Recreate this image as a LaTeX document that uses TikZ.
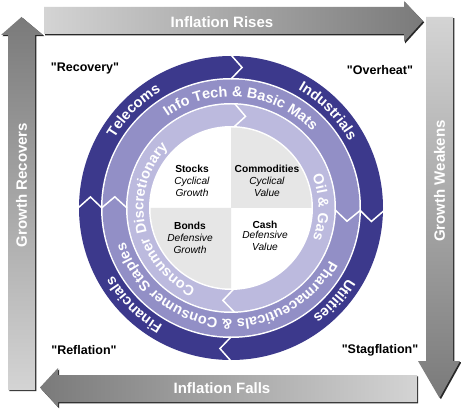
\documentclass[tikz,border=0pt]{standalone}
\usepackage{fontspec}
\defaultfontfeatures[\rmfamily]{}
\setmainfont{Liberation Sans}
\usetikzlibrary{decorations.text}
\definecolor{ringdark}{RGB}{60,57,140}
\definecolor{ringmid}{RGB}{146,143,198}
\definecolor{ringlight}{RGB}{188,186,222}
\definecolor{quadgray}{RGB}{230,230,230}
\definecolor{arrlight}{RGB}{212,212,212}
\definecolor{arrdark}{RGB}{122,122,122}
\definecolor{arrshadow}{RGB}{40,40,40}
\newcommand\ringfont{\bfseries\fontsize{14.5}{14.5}\selectfont}
% #1 radius, #2 start angle, #3 end angle, #4 text
\newcommand\ringlabel[4]{%
  \path[decorate,decoration={text along path,text align=center,
    text={|\ringfont\color{white}|#4}}] (#2:#1pt) arc[start angle=#2,end angle=#3,radius=#1pt];}
% #1 inner r, #2 outer r, #3 angle, #4 delta
\newcommand\chev[4]{%
  \draw[chevline] (#3:#1pt) -- (#3-#4:{(#1+#2)/2*1pt}) -- (#3:#2pt);}
\tikzset{
  chevline/.style={white,line width=1.5pt,line join=miter},
  arrtext/.style={text=white,font=\bfseries\fontsize{15}{15}\selectfont,inner sep=0pt},
  scen/.style={text=black,font=\bfseries\fontsize{12.5}{13}\selectfont,inner sep=0pt},
  quadtext/.style={align=center,font=\fontsize{10.2}{12}\selectfont,inner sep=0pt,text=black}
}
\begin{document}
\begin{tikzpicture}[x=1pt,y=1pt]
\useasboundingbox (0,0) rectangle (461,413);
\fill[white] (0,0) rectangle (461,413);

% ---- top arrow (Inflation Rises)
\fill[arrshadow,shift={(1.2,-1.4)}] (44,379) -- (404,379) -- (404,371) -- (423,392) -- (404,412) -- (404,406) -- (44,406) -- cycle;
\shade[left color=arrlight,right color=arrdark] (44,379) -- (404,379) -- (404,371) -- (423,392) -- (404,412) -- (404,406) -- (44,406) -- cycle;
% ---- right arrow (Growth Weakens)
\fill[arrshadow,shift={(1.4,-1.2)}] (426,396) -- (453,396) -- (453,52) -- (460,52) -- (439.5,15) -- (418,52) -- (426,52) -- cycle;
\shade[top color=arrlight,bottom color=arrdark] (426,396) -- (453,396) -- (453,52) -- (460,52) -- (439.5,15) -- (418,52) -- (426,52) -- cycle;
% ---- bottom arrow (Inflation Falls)
\fill[arrshadow,shift={(1.2,-1.4)}] (417,38) -- (58,38) -- (58,45) -- (40,25.5) -- (58,6) -- (58,11) -- (417,11) -- cycle;
\shade[left color=arrdark,right color=arrlight] (417,38) -- (58,38) -- (58,45) -- (40,25.5) -- (58,6) -- (58,11) -- (417,11) -- cycle;
% ---- left arrow (Growth Recovers)
\fill[arrshadow,shift={(1.4,-1.2)}] (8,23) -- (8,378) -- (1,378) -- (21.5,396) -- (43,378) -- (35,378) -- (35,23) -- cycle;
\shade[top color=arrdark,bottom color=arrlight] (8,23) -- (8,378) -- (1,378) -- (21.5,396) -- (43,378) -- (35,378) -- (35,23) -- cycle;

\node[arrtext] (rises) at (222,391) {Inflation Rises};
\node[arrtext] (falls) at (222,25) {Inflation Falls};
\node[arrtext,rotate=90] (recovers) at (21.5,228) {Growth Recovers};
\node[arrtext,rotate=90] (weakens) at (439.5,232) {Growth Weakens};

% ---- scenario labels
\node[scen] (recovery) at (85,345) {"Recovery"};
\node[scen] (overheat) at (380,343) {"Overheat"};
\node[scen] (reflation) at (84,63) {"Reflation"};
\node[scen] (stagflation) at (380,63) {"Stagflation"};

% ---- the wheel
\begin{scope}[shift={(231,205)}]
  \fill[ringdark] (0,0) circle[radius=152pt];
  \fill[white] (0,0) circle[radius=130pt];
  \fill[ringmid] (0,0) circle[radius=128.5pt];
  \fill[white] (0,0) circle[radius=105pt];
  \fill[ringlight] (0,0) circle[radius=103.5pt];
  \fill[white] (0,0) circle[radius=82pt];
  \fill[quadgray] (0,0) -- (0:80.5pt) arc[start angle=0,end angle=90,radius=80.5pt] -- cycle;
  \fill[quadgray] (0,0) -- (180:80.5pt) arc[start angle=180,end angle=270,radius=80.5pt] -- cycle;
  % chevron separators
  \chev{129}{153}{90}{4.5}
  \chev{129}{153}{-1}{4.5}
  \chev{129}{153}{270}{4.5}
  \chev{129}{153}{180}{4.5}
  \chev{104}{129.5}{180}{5.5}
  \chev{104}{129.5}{-1}{5.5}
  \chev{81}{104.5}{88}{7}
  \chev{81}{104.5}{272}{7}
  % ring texts
  \ringlabel{136}{170}{100}{Telecoms}
  \ringlabel{136}{80}{10}{Industrials}
  \ringlabel{136}{-7}{-77}{Utilities}
  \ringlabel{136}{260}{190}{Financials}
  \ringlabel{111.5}{172}{-4}{Info Tech {\&} Basic Mats}
  \ringlabel{111.5}{-5}{-185}{Pharmaceuticals {\&} Consumer Staples}
  \ringlabel{87.5}{262}{120}{Consumer Discretionary}
  \ringlabel{87.5}{40}{-39}{Oil {\&} Gas}
\end{scope}

% ---- quadrant texts
\node[quadtext] (stocks) at (192,232.5) {\textbf{Stocks}\\\textit{Cyclical}\\\textit{Growth}};
\node[quadtext] (commod) at (267,232.5) {\textbf{Commodities}\\\textit{Cyclical}\\\textit{Value}};
\node[quadtext] (bonds) at (190,175.5) {\textbf{Bonds}\\\textit{Defensive}\\\textit{Growth}};
\node[quadtext] (cash) at (265,177) {\textbf{Cash}\\[-2pt]\textit{Defensive}\\\textit{Value}};
\end{tikzpicture}
\end{document}
